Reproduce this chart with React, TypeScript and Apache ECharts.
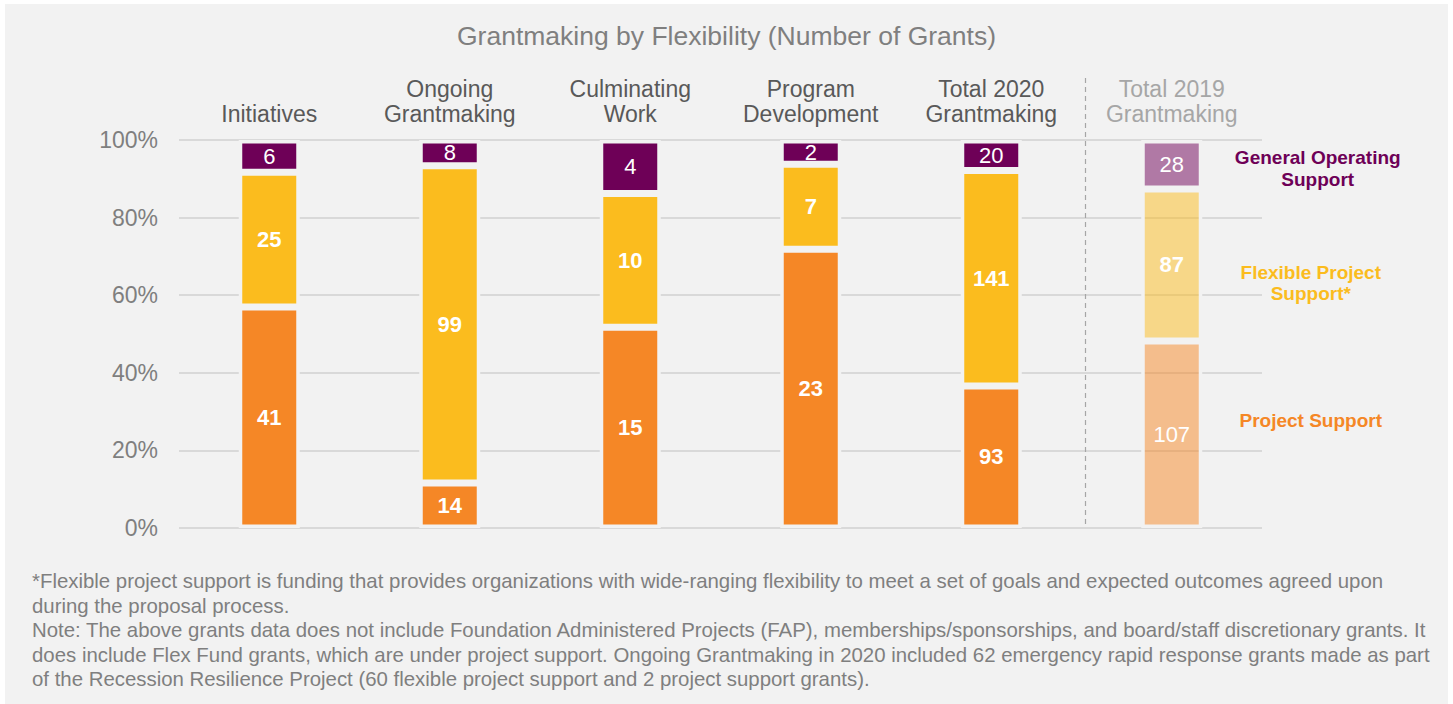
import React, { useEffect, useRef } from "react";
import * as echarts from "echarts";

const categories = [
  "Initiatives",
  "Ongoing\nGrantmaking",
  "Culminating\nWork",
  "Program\nDevelopment",
  "Total 2020\nGrantmaking",
  "Total 2019\nGrantmaking",
];
const projectSupport = [41, 14, 15, 23, 93, 107];
const flexibleSupport = [25, 99, 10, 7, 141, 87];
const generalOperating = [6, 8, 4, 2, 20, 28];
const seriesNames = ["Project Support", "Flexible Project Support*", "General Operating Support"];
const fadedIndex = 5;

const titleText = "Grantmaking by Flexibility (Number of Grants)";
const footnoteLines = [
  "*Flexible project support is funding that provides organizations with wide-ranging flexibility to meet a set of goals and expected outcomes agreed upon",
  "during the proposal process.",
  "Note: The above grants data does not include Foundation Administered Projects (FAP), memberships/sponsorships, and board/staff discretionary grants. It",
  "does include Flex Fund grants, which are under project support. Ongoing Grantmaking in 2020 included 62 emergency rapid response grants made as part",
  "of the Recession Resilience Project (60 flexible project support and 2 project support grants).",
];

const FONT = "'Liberation Sans', Arial, sans-serif";
const BG = "#f2f2f2";
const colors = ["#f58726", "#fbbc1e", "#6e0057"];
const fadedColors = ["rgba(245,135,38,0.5)", "rgba(251,188,30,0.5)", "rgba(110,0,87,0.5)"];

export default function App() {
  const ref = useRef<HTMLDivElement>(null);
  useEffect(() => {
    if (!ref.current) return;
    const chart = echarts.init(ref.current, undefined, { renderer: "svg" });
    const raw = [projectSupport, flexibleSupport, generalOperating];
    const totals = categories.map((_, i) => raw.reduce((s, arr) => s + arr[i], 0));

    const series = raw.map((arr, si) => ({
      name: seriesNames[si],
      type: "bar",
      stack: "total",
      barWidth: 61,
      data: arr.map((v, i) => ({
        value: (v / totals[i]) * 100,
        itemStyle: {
          color: i === fadedIndex ? fadedColors[si] : colors[si],
          borderColor: BG,
          borderWidth: 3.5,
        },
        label: {
          fontWeight: si === 2 || (i === fadedIndex && si === 0) ? "normal" : "bold",
        },
      })),
      label: {
        show: true,
        position: "inside",
        color: "#ffffff",
        fontSize: 22,
        fontFamily: FONT,
        formatter: (p: any) => String(arr[p.dataIndex]),
      },
    }));

    chart.setOption({
      animation: false,
      backgroundColor: "transparent",
      title: {
        text: titleText,
        left: "center",
        top: 17,
        textStyle: { fontSize: 26.5, color: "#7f7f7f", fontWeight: "normal", fontFamily: FONT },
      },
      grid: { left: 179, right: 191, top: 140, bottom: 176 },
      xAxis: {
        type: "category",
        position: "top",
        data: categories,
        axisLine: { show: false },
        axisTick: { show: false },
        axisLabel: {
          fontSize: 23,
          fontFamily: FONT,
          lineHeight: 25,
          margin: 14,
          color: (_v: any, i: number) => (i === fadedIndex ? "#a6a6a6" : "#595959"),
        },
      },
      yAxis: {
        type: "value",
        min: 0,
        max: 100,
        interval: 20,
        axisLine: { show: false },
        axisTick: { show: false },
        axisLabel: {
          formatter: "{value}%",
          fontSize: 23,
          fontFamily: FONT,
          color: "#7f7f7f",
          margin: 21,
        },
        splitLine: { lineStyle: { color: "#d9d9d9", width: 2 } },
      },
      series,
    });

    const x4 = chart.convertToPixel({ xAxisIndex: 0 }, categories[4]) as number;
    const x5 = chart.convertToPixel({ xAxisIndex: 0 }, categories[5]) as number;
    const xSep = (x4 + x5) / 2 + 4;
    const y0 = chart.convertToPixel({ yAxisIndex: 0 }, 0) as number;
    const xLegend = x5 + 139;

    chart.setOption({
      graphic: [
        {
          type: "rect",
          z: -10,
          silent: true,
          shape: { x: 5, y: 4, width: 1443, height: 700 },
          style: { fill: BG },
        },
        {
          type: "line",
          z: 1,
          shape: { x1: xSep, y1: 78, x2: xSep, y2: y0 },
          style: { stroke: "#a6a6a6", lineWidth: 1.2, lineDash: [5, 4] },
        },
        {
          type: "text",
          x: xLegend + 7,
          y: 168,
          style: {
            text: "General Operating\nSupport",
            fill: colors[2],
            font: `bold 19px ${FONT}`,
            align: "center",
            verticalAlign: "middle",
            lineHeight: 22,
          },
        },
        {
          type: "text",
          x: xLegend,
          y: 283,
          style: {
            text: "Flexible Project\nSupport*",
            fill: colors[1],
            font: `bold 19px ${FONT}`,
            align: "center",
            verticalAlign: "middle",
            lineHeight: 21,
          },
        },
        {
          type: "text",
          x: xLegend,
          y: 420,
          style: {
            text: "Project Support",
            fill: colors[0],
            font: `bold 19px ${FONT}`,
            align: "center",
            verticalAlign: "middle",
          },
        },
        {
          type: "text",
          x: 32,
          y: 569,
          style: {
            text: footnoteLines.join("\n"),
            fill: "#7f7f7f",
            font: `20.4px ${FONT}`,
            lineHeight: 24.5,
          },
        },
      ],
    });

    return () => chart.dispose();
  }, []);

  return (
    <div style={{ position: "fixed", left: 0, top: 0, width: 1453, height: 704, background: "#ffffff" }}>
      <div ref={ref} style={{ width: 1453, height: 704 }} />
    </div>
  );
}
